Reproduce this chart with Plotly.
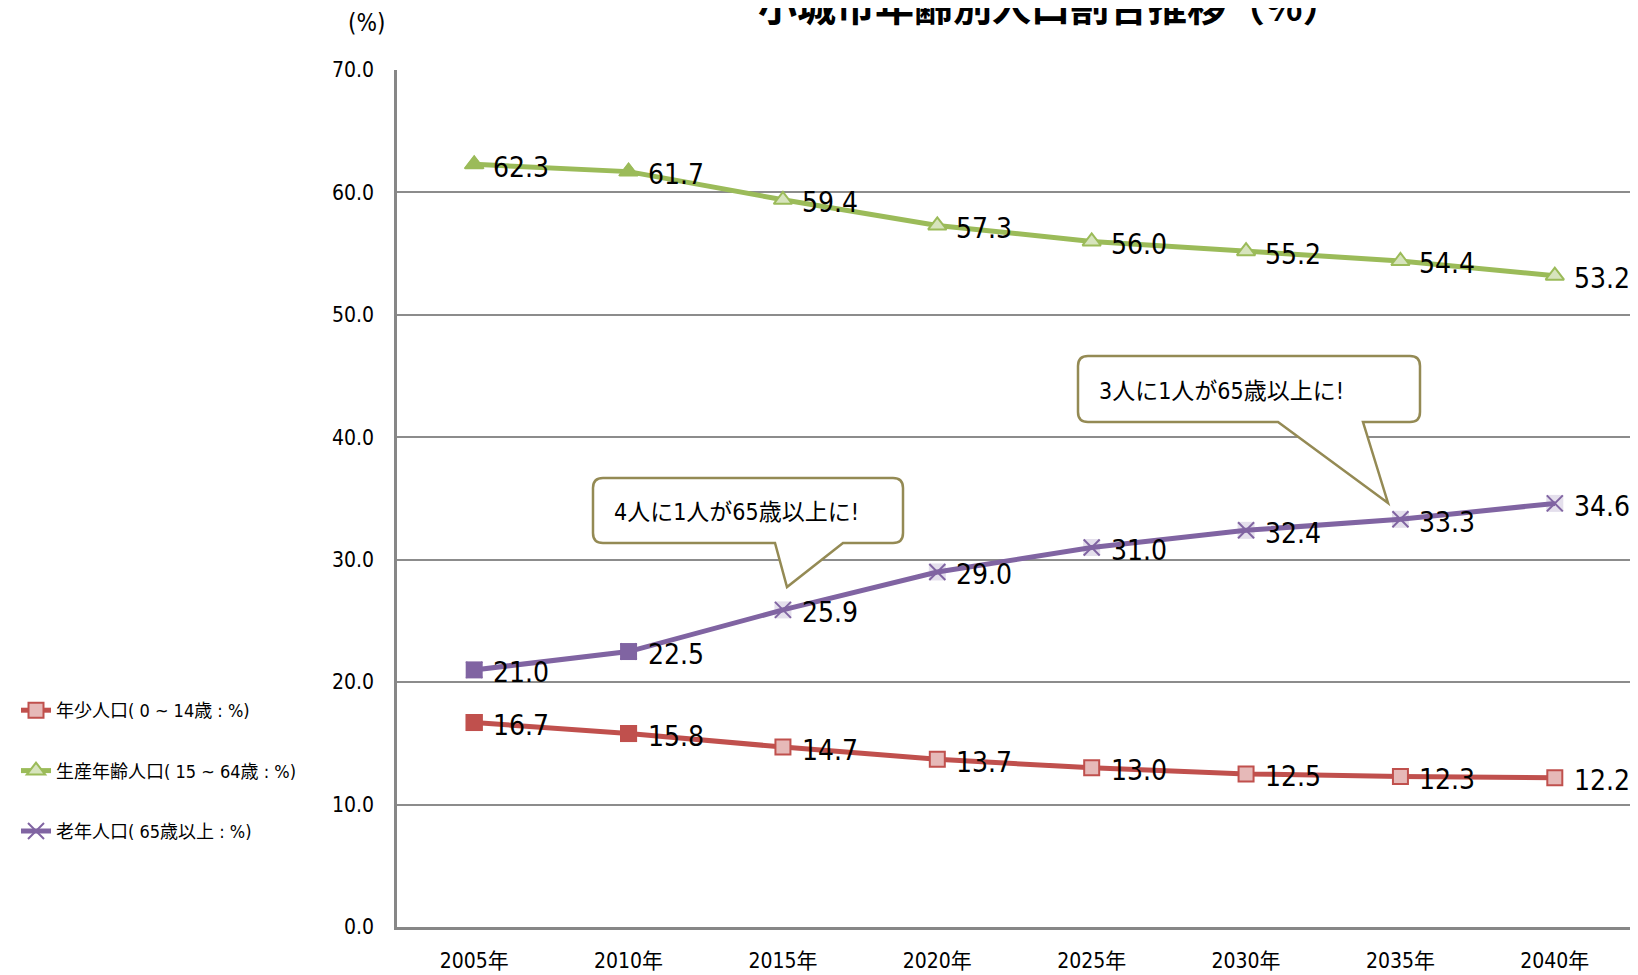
import plotly.graph_objects as go

years = ["2005年", "2010年", "2015年", "2020年", "2025年", "2030年", "2035年", "2040年"]
young = [16.7, 15.8, 14.7, 13.7, 13.0, 12.5, 12.3, 12.2]
working = [62.3, 61.7, 59.4, 57.3, 56.0, 55.2, 54.4, 53.2]
elderly = [21.0, 22.5, 25.9, 29.0, 31.0, 32.4, 33.3, 34.6]
names = ["年少人口( 0 ~ 14歳 : %)", "生産年齢人口( 15 ~ 64歳 : %)", "老年人口( 65歳以上 : %)"]
title_text = "小城市年齢別人口割合推移（%）"
callout1 = "4人に1人が65歳以上に!"
callout2 = "3人に1人が65歳以上に!"

FONT = "Liberation Sans Narrow, DejaVu Sans Condensed, Noto Sans CJK JP, sans-serif"
OFF = 8  # page body margin
W, H = 1630, 967
ML, MT = 397 - OFF, 70 - OFF
PLOT_R, PLOT_B = 1632 - OFF, 927 - OFF
MR, MB = W - PLOT_R, H - PLOT_B
PW, PH = PLOT_R - ML, PLOT_B - MT

RED, RED_L = "#C0504D", "#E6B9B8"
GRN, GRN_L = "#9BBB59", "#D7E4BD"
PUR, PUR_L = "#8064A2", "#E4DFEC"
OLIVE = "#948A54"

fig = go.Figure()

fig.add_trace(go.Scatter(x=years, y=young, mode="lines+markers", name=names[0], legendgroup="a",
                         line=dict(color=RED, width=5),
                         marker=dict(symbol="square", size=15, color=RED_L, line=dict(color=RED, width=2))))
fig.add_trace(go.Scatter(x=years[:2], y=young[:2], mode="markers", showlegend=False, legendgroup="a",
                         marker=dict(symbol="square", size=17, color=RED, line=dict(width=0))))
fig.add_trace(go.Scatter(x=years, y=working, mode="lines+markers", name=names[1], legendgroup="b",
                         line=dict(color=GRN, width=5),
                         marker=dict(symbol="triangle-up", size=16, color=GRN_L, line=dict(color=GRN, width=2))))
fig.add_trace(go.Scatter(x=years[:2], y=working[:2], mode="markers", showlegend=False, legendgroup="b",
                         marker=dict(symbol="triangle-up", size=18, color=GRN, line=dict(width=0))))
fig.add_trace(go.Scatter(x=years[2:], y=elderly[2:], mode="markers", showlegend=False, legendgroup="c",
                         marker=dict(symbol="square", size=17, color=PUR_L, line=dict(width=0))))
fig.add_trace(go.Scatter(x=years, y=elderly, mode="lines+markers", name=names[2], legendgroup="c",
                         line=dict(color=PUR, width=5),
                         marker=dict(symbol="x-thin", size=16, line=dict(color=PUR, width=2))))
fig.add_trace(go.Scatter(x=years[:2], y=elderly[:2], mode="markers", showlegend=False, legendgroup="c",
                         marker=dict(symbol="square", size=17, color=PUR, line=dict(width=0))))

annotations = []
for series in (young, working, elderly):
    for xv, yv in zip(years, series):
        annotations.append(dict(x=xv, y=yv, xref="x", yref="y", text=f"{yv:.1f}", showarrow=False,
                                xanchor="left", yanchor="middle", xshift=17, yshift=-3,
                                font=dict(size=28, color="#000000", family=FONT)))


def px2paper(px, py):
    # px, py: screenshot pixel coordinates
    return (px - OFF - ML) / PW, (PLOT_B - (py - OFF)) / PH


def callout_path(L, T, R, B, r, tail_right, tail_tip, tail_left):
    parts = []
    def P(cmd, *coords):
        s = cmd
        for i in range(0, len(coords), 2):
            x, y = px2paper(coords[i], coords[i + 1])
            s += f" {x:.5f},{y:.5f}"
        parts.append(s)
    P("M", L + r, T)
    P("L", R - r, T)
    P("Q", R, T, R, T + r)
    P("L", R, B - r)
    P("Q", R, B, R - r, B)
    P("L", tail_right, B)
    P("L", tail_tip[0], tail_tip[1])
    P("L", tail_left, B)
    P("L", L + r, B)
    P("Q", L, B, L, B - r)
    P("L", L, T + r)
    P("Q", L, T, L + r, T)
    return " ".join(parts) + " Z"


shapes = [
    dict(type="path", xref="paper", yref="paper",
         path=callout_path(593, 478, 903, 543, 10, 843, (787, 587), 775),
         line=dict(color=OLIVE, width=2.5), fillcolor="white", layer="above"),
    dict(type="path", xref="paper", yref="paper",
         path=callout_path(1078, 356, 1420, 422, 10, 1363, (1388, 503), 1278),
         line=dict(color=OLIVE, width=2.5), fillcolor="white", layer="above"),
]

x1, y1 = px2paper(612, 512)
x2, y2 = px2paper(1097, 391)
annotations.append(dict(x=x1, y=y1, xref="paper", yref="paper", text=callout1, showarrow=False,
                        xanchor="left", yanchor="middle", font=dict(size=23, color="#000000", family=FONT)))
annotations.append(dict(x=x2, y=y2, xref="paper", yref="paper", text=callout2, showarrow=False,
                        xanchor="left", yanchor="middle", font=dict(size=23, color="#000000", family=FONT)))
ux, uy = px2paper(366, 23)
annotations.append(dict(x=ux, y=uy, xref="paper", yref="paper", text="(%)", showarrow=False,
                        xanchor="center", yanchor="middle", font=dict(size=24, color="#000000", family=FONT)))
tx, ty = px2paper(1050, 4)
annotations.append(dict(x=tx, y=ty, xref="paper", yref="paper", text=f"<b>{title_text}</b>", showarrow=False,
                        xanchor="center", yanchor="middle",
                        font=dict(size=39, color="#000000", family="Noto Sans CJK JP, sans-serif")))

fig.update_layout(
    width=W, height=H,
    margin=dict(l=ML, r=MR, t=MT, b=MB, autoexpand=False),
    paper_bgcolor="white", plot_bgcolor="white",
    font=dict(family=FONT, color="#000000"),
    showlegend=True,
    legend=dict(xref="container", yref="container", x=8 / W, y=1 - 684 / H, xanchor="left", yanchor="top",
                font=dict(size=18, family=FONT, color="#000000"), tracegroupgap=34,
                bgcolor="rgba(0,0,0,0)", traceorder="grouped"),
    xaxis=dict(type="category", categoryorder="array", categoryarray=years, range=[-0.5, 7.5],
               showgrid=False, showline=True, linecolor="#878787", linewidth=2.5,
               ticks="", tickfont=dict(size=21, family=FONT, color="#000000"),
               ticklabelstandoff=13, fixedrange=True),
    yaxis=dict(range=[0, 70], dtick=10, tick0=0, tickformat=".1f", showgrid=True,
               gridcolor="#8C8C8C", gridwidth=2, showline=True, linecolor="#878787", linewidth=2.5,
               zeroline=False, ticks="", tickfont=dict(size=21, family=FONT, color="#000000"),
               ticklabelstandoff=16, fixedrange=True),
    annotations=annotations,
    shapes=shapes,
)

fig.write_html("out.html")
